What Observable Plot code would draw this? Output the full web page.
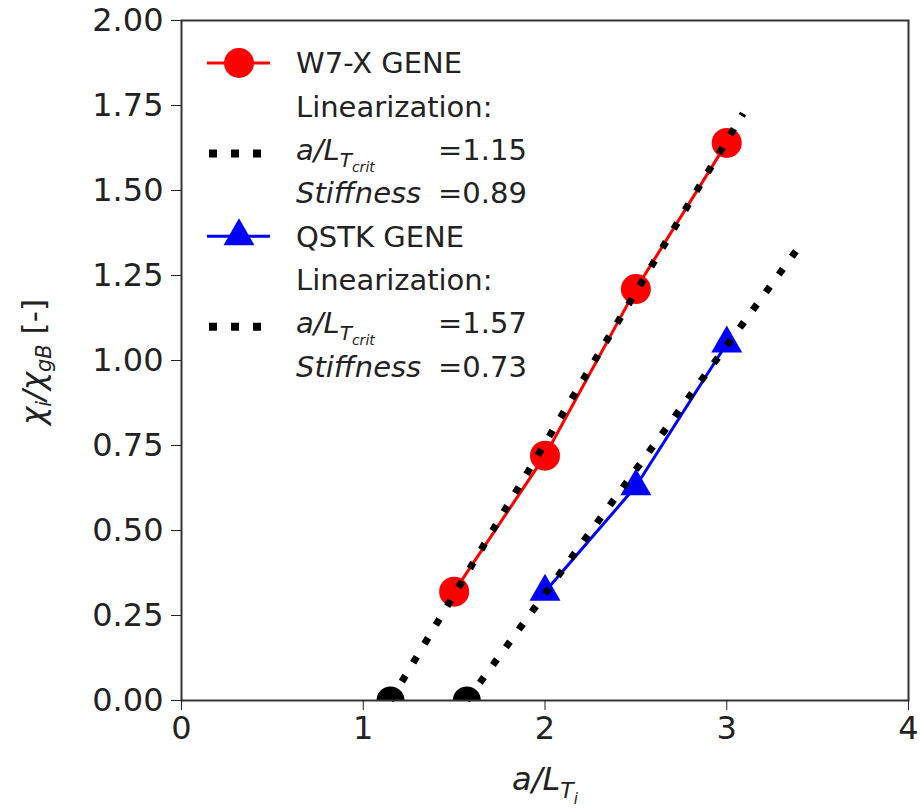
<!DOCTYPE html>
<html><head><meta charset="utf-8">
<script src="https://cdn.jsdelivr.net/npm/d3@7"></script>
<script src="https://cdn.jsdelivr.net/npm/@observablehq/plot@0.6"></script>
<style>
body{margin:0;background:#fff;}
#wrap{position:relative;width:920px;height:812px;}
</style></head><body><div id="wrap"></div>
<script>
// ---- data ----
const seriesNames = ["W7-X GENE", "QSTK GENE"];
const seriesColors = ["#ff0000", "#0000ff"];
const w7xGrad = [1.5, 2, 2.5, 3];
const w7xChi = [0.32, 0.72, 1.21, 1.64];
const qstkGrad = [2, 2.5, 3];
const qstkChi = [0.32, 0.63, 1.05];
const critGrad = [1.15, 1.57];
const stiffness = [0.89, 0.73];
const fitEndGrad = [3.09, 3.38];
const xTicks = [0, 1, 2, 3, 4];
const yTicks = [0, 0.25, 0.5, 0.75, 1, 1.25, 1.5, 1.75, 2];

const w7x = w7xGrad.map((x, i) => ({x, y: w7xChi[i]}));
const qstk = qstkGrad.map((x, i) => ({x, y: qstkChi[i]}));
const fits = critGrad.flatMap((c, i) => [
  {s: i, x: c, y: 0},
  {s: i, x: fitEndGrad[i], y: stiffness[i] * (fitEndGrad[i] - c)}
]);
const crits = critGrad.map(c => ({x: c, y: 0}));

const chart = Plot.plot({
  width: 920, height: 812,
  marginLeft: 181, marginRight: 12, marginTop: 20, marginBottom: 112,
  x: {domain: [0, 4]},
  y: {domain: [0, 2]},
  style: {fontFamily: "DejaVu Sans", color: "#222", background: "white"},
  marks: [
    Plot.line(w7x, {x: "x", y: "y", stroke: seriesColors[0], strokeWidth: 3}),
    Plot.dot(w7x, {x: "x", y: "y", r: 15, fill: seriesColors[0], stroke: "none"}),
    Plot.line(qstk, {x: "x", y: "y", stroke: seriesColors[1], strokeWidth: 3}),
    Plot.dot(qstk, {x: "x", y: "y", r: 11.5, symbol: "triangle", fill: seriesColors[1], stroke: "none"}),
    Plot.line(fits, {x: "x", y: "y", z: "s", stroke: "black", strokeWidth: 7, strokeDasharray: "7,15", strokeLinecap: "butt"}),
    Plot.dot(crits, {x: "x", y: "y", r: 14, fill: "black", stroke: "none", clip: true}),
    Plot.frame({stroke: "#333", strokeWidth: 2}),
    Plot.axisX({ticks: xTicks, tickFormat: d3.format("d"), tickSize: 10, tickPadding: 6, fontSize: 32, label: null}),
    Plot.axisY({ticks: yTicks, tickFormat: d3.format(".2f"), tickSize: 10, tickPadding: 8, fontSize: 32, label: null})
  ]
});
document.getElementById("wrap").appendChild(chart);

const svg = d3.select(chart);
const FONT = "DejaVu Sans";

// x axis label  a/L_{T_i}
const xl = svg.append("text").attr("x", 545).attr("y", 790).attr("text-anchor", "middle")
  .attr("font-family", FONT).attr("font-size", 32).attr("fill", "#222");
xl.append("tspan").attr("font-style", "italic").text("a/L");
xl.append("tspan").attr("font-style", "italic").attr("font-size", 22).attr("dy", 8).text("T");
xl.append("tspan").attr("font-style", "italic").attr("font-size", 15).attr("dy", 6).text("i");

// y axis label  χ_i/χ_gB [-]
const yl = svg.append("text").attr("transform", "translate(44,362) rotate(-90)").attr("text-anchor", "middle")
  .attr("font-family", FONT).attr("font-size", 31).attr("fill", "#222");
yl.append("tspan").attr("font-style", "italic").text("χ");
yl.append("tspan").attr("font-style", "italic").attr("font-size", 21).attr("dy", 7).text("i");
yl.append("tspan").attr("font-style", "italic").attr("dy", -7).text("/χ");
yl.append("tspan").attr("font-style", "italic").attr("font-size", 21).attr("dy", 7).text("gB");
yl.append("tspan").attr("dy", -7).text(" [-]");

// legend
const lg = svg.append("g").attr("font-family", FONT).attr("font-size", 29).attr("fill", "#222")
  .attr("text-anchor", "start");
const rowY = i => 63 + i * 43.3;
const tx = 296, eqx = 438, mx0 = 207, mx1 = 270, mc = 239;
seriesNames.forEach((name, k) => {
  const base = k * 4;
  lg.append("line").attr("x1", mx0).attr("x2", mx1).attr("y1", rowY(base)).attr("y2", rowY(base))
    .attr("stroke", seriesColors[k]).attr("stroke-width", 3);
  if (k === 0) {
    lg.append("circle").attr("cx", mc).attr("cy", rowY(base)).attr("r", 15).attr("fill", seriesColors[k]);
  } else {
    lg.append("path").attr("transform", `translate(${mc},${rowY(base)})`)
      .attr("d", d3.symbol(d3.symbolTriangle, Math.PI * 11.5 * 11.5)()).attr("fill", seriesColors[k]);
  }
  lg.append("text").attr("x", tx).attr("y", rowY(base)).attr("dy", "0.36em").text(name);
  lg.append("text").attr("x", tx).attr("y", rowY(base + 1)).attr("dy", "0.36em").text("Linearization:");
  lg.append("line").attr("x1", mx0 + 2).attr("x2", mx1).attr("y1", rowY(base + 2) + 4).attr("y2", rowY(base + 2) + 4)
    .attr("stroke", "black").attr("stroke-width", 8).attr("stroke-dasharray", "8,14");
  const t = lg.append("text").attr("x", tx).attr("y", rowY(base + 2)).attr("dy", "0.36em");
  t.append("tspan").attr("font-style", "italic").text("a/L");
  t.append("tspan").attr("font-style", "italic").attr("font-size", 20).attr("dy", 7).text("T");
  t.append("tspan").attr("font-style", "italic").attr("font-size", 14).attr("dy", 5).text("crit");
  lg.append("text").attr("x", eqx).attr("y", rowY(base + 2)).attr("dy", "0.36em").text("=" + critGrad[k].toFixed(2));
  const s = lg.append("text").attr("x", tx).attr("y", rowY(base + 3)).attr("dy", "0.36em");
  s.append("tspan").attr("font-style", "italic").text("Stiffness");
  lg.append("text").attr("x", eqx).attr("y", rowY(base + 3)).attr("dy", "0.36em").text("=" + stiffness[k].toFixed(2));
});
</script></body></html>
